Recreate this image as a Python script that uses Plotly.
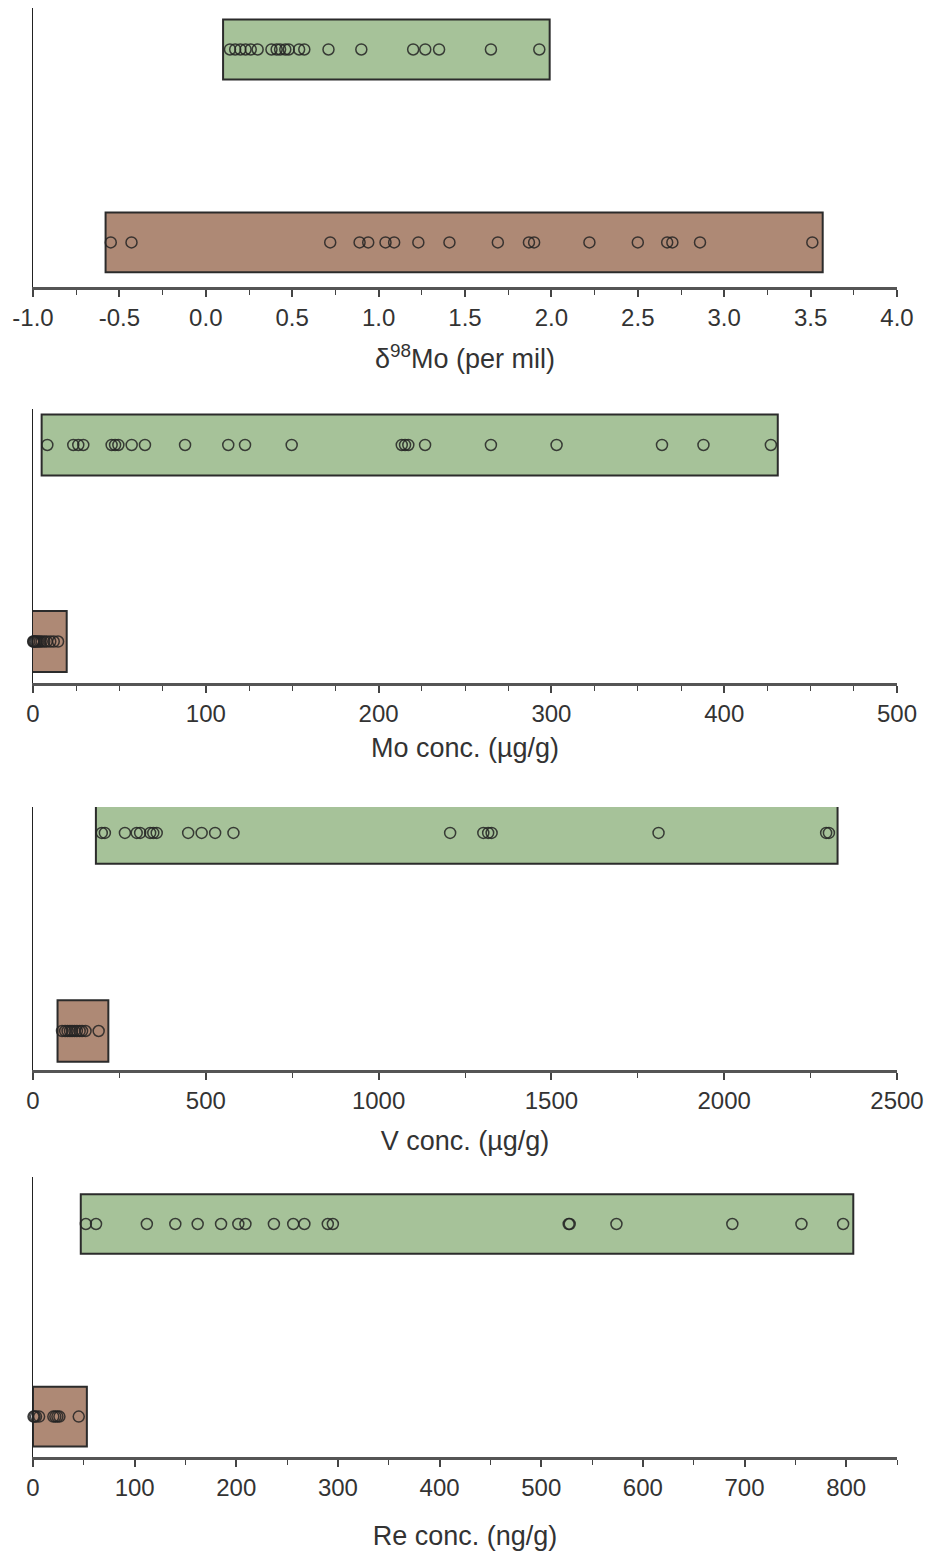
import plotly.graph_objects as go

# ---------------- data ----------------
# delta98Mo (per mil)
d98_green = [0.14, 0.17, 0.20, 0.23, 0.26, 0.30, 0.38, 0.41, 0.43, 0.46, 0.48, 0.54, 0.57,
             0.71, 0.90, 1.20, 1.27, 1.35, 1.65, 1.93]
d98_brown = [-0.55, -0.43, 0.72, 0.89, 0.94, 1.04, 1.09, 1.23, 1.41, 1.69, 1.87, 1.90, 2.22,
             2.50, 2.67, 2.70, 2.86, 3.51]
d98_green_box = [0.10, 1.99]
d98_brown_box = [-0.58, 3.57]
d98_tickvals = [-1.0, -0.5, 0.0, 0.5, 1.0, 1.5, 2.0, 2.5, 3.0, 3.5, 4.0]
d98_ticktext = ["-1.0", "-0.5", "0.0", "0.5", "1.0", "1.5", "2.0", "2.5", "3.0", "3.5", "4.0"]

# Mo conc. (ug/g)
mo_green = [8.3, 23.3, 26.2, 29.1, 45.5, 47.5, 49.4, 57.1, 64.8, 88.0, 113.0, 122.7, 149.7,
            213.4, 215.3, 217.2, 226.9, 265, 303, 364, 388, 427]
mo_brown = [0.1, 0.4, 0.9, 1.5, 2.2, 3.0, 4.0, 5.0, 6.5, 8.0, 10.0, 12.0, 14.5]
mo_green_box = [5, 431]
mo_brown_box = [-1, 19.5]
mo_tickvals = [0, 100, 200, 300, 400, 500]

# V conc. (ug/g)
v_green = [199, 208, 266, 300, 310, 339, 348, 358, 449, 488, 527, 580, 1207, 1303, 1317,
           1327, 1810, 2295, 2303]
v_brown = [84, 93, 100, 107, 113, 120, 127, 135, 142, 152, 190]
v_green_box = [182, 2328]
v_brown_box = [71, 218]
v_tickvals = [0, 500, 1000, 1500, 2000, 2500]

# Re conc. (ng/g)
re_green = [52, 62, 112, 140, 162, 185, 202, 209, 237, 256, 267, 290, 295, 527, 528, 574,
            688, 756, 797]
re_brown = [0.5, 1.5, 3, 6, 20, 22, 24, 26, 45]
re_green_box = [47, 807]
re_brown_box = [0, 53]
re_tickvals = [0, 100, 200, 300, 400, 500, 600, 700, 800]

titles = ["δ<sup>98</sup>Mo (per mil)", "Mo conc. (µg/g)", "V conc. (µg/g)", "Re conc. (ng/g)"]
x_ranges = [[-1, 4], [0, 500], [0, 2500], [0, 850]]
minor_dt = [0.25, 25, 250, 50]
tickvals_all = [d98_tickvals, mo_tickvals, v_tickvals, re_tickvals]
ticktext_all = [d98_ticktext, [str(v) for v in mo_tickvals], [str(v) for v in v_tickvals],
                [str(v) for v in re_tickvals]]

panels = [
    (d98_green, d98_brown, d98_green_box, d98_brown_box),
    (mo_green, mo_brown, mo_green_box, mo_brown_box),
    (v_green, v_brown, v_green_box, v_brown_box),
    (re_green, re_brown, re_green_box, re_brown_box),
]

# ---------------- layout geometry ----------------
H = 1555
W = 933
y_domains = [
    [1 - 287 / H, 1 - 8 / H],
    [1 - 683 / H, 1 - 409 / H],
    [1 - 1070 / H, 1 - 807 / H],
    [1 - 1457 / H, 1 - 1177 / H],
]
y_ranges = [[-0.231, 1.215], [-0.211, 1.183], [-0.197, 1.131], [-0.210, 1.244]]
standoffs = [20, 13, 19, 27]

GREEN = "#A6C299"
BROWN = "#AE8975"
EDGE = "#2b2b2b"
FONT = "Liberation Sans, Arial, sans-serif"

fig = go.Figure()
layout = dict(
    width=W, height=H,
    margin=dict(l=33, r=36, t=0, b=0),
    paper_bgcolor="white", plot_bgcolor="white",
    showlegend=False, barmode="overlay",
    font=dict(family=FONT, size=24, color="#333333"),
)

for i, (g, b, gbox, bbox) in enumerate(panels):
    xa = "x" if i == 0 else f"x{i+1}"
    ya = "y" if i == 0 else f"y{i+1}"
    for pos, box, col in ((1, gbox, GREEN), (0, bbox, BROWN)):
        fig.add_trace(go.Bar(
            orientation="h", y=[pos], base=[box[0]], x=[box[1] - box[0]],
            width=0.31, marker=dict(color=col, line=dict(color=EDGE, width=2)),
            cliponaxis=False, xaxis=xa, yaxis=ya, hoverinfo="skip",
        ))
    for pos, vals in ((1, g), (0, b)):
        fig.add_trace(go.Scatter(
            x=vals, y=[pos] * len(vals), mode="markers",
            marker=dict(symbol="circle-open", size=11, color="rgba(35,35,35,0.85)",
                        line=dict(width=1.5)),
            cliponaxis=False, xaxis=xa, yaxis=ya,
        ))
    xkey = "xaxis" if i == 0 else f"xaxis{i+1}"
    ykey = "yaxis" if i == 0 else f"yaxis{i+1}"
    layout[xkey] = dict(
        domain=[0, 1], anchor=ya, range=x_ranges[i],
        tickmode="array", tickvals=tickvals_all[i], ticktext=ticktext_all[i],
        ticks="outside", ticklen=7, tickwidth=1.5, tickcolor="#444444",
        minor=dict(dtick=minor_dt[i], tick0=x_ranges[i][0], ticks="outside", ticklen=5,
                   tickwidth=1.2, tickcolor="#444444"),
        showline=True, linecolor="#555555", linewidth=2.5,
        showgrid=False, zeroline=False,
        tickfont=dict(size=24, color="#333333", family=FONT),
        title=dict(text=titles[i], font=dict(size=27, color="#333333", family=FONT),
                   standoff=standoffs[i]),
    )
    layout[ykey] = dict(
        domain=y_domains[i], anchor=xa, range=y_ranges[i],
        showline=True, linecolor="#222222", linewidth=1.2,
        showticklabels=False, ticks="", showgrid=False, zeroline=False,
    )

fig.update_layout(**layout)
fig.write_html("out.html")
